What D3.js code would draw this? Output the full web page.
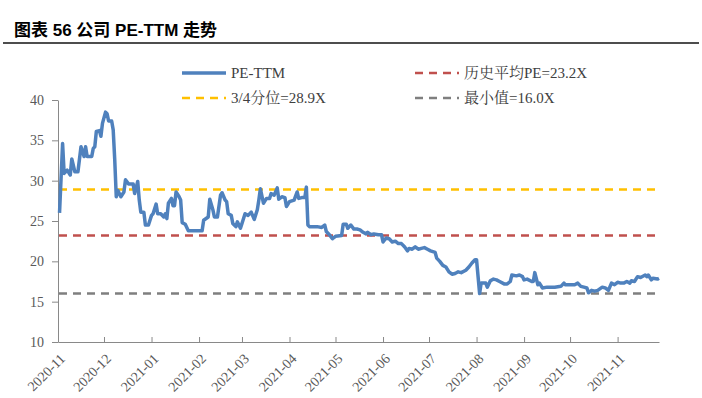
<!DOCTYPE html>
<html>
<head>
<meta charset="utf-8">
<script src="https://cdn.jsdelivr.net/npm/d3@7"></script>
<style>
body { margin: 0; background: #fff; }
</style>
</head>
<body>
<svg id="chart" width="702" height="398"></svg>
<script>
// PE-TTM readings (date, value)
var dates = [
    "2020-11-02","2020-11-04","2020-11-05","2020-11-07","2020-11-09","2020-11-10","2020-11-12","2020-11-14",
    "2020-11-16","2020-11-18","2020-11-19","2020-11-20","2020-11-23","2020-11-24","2020-11-25","2020-11-26",
    "2020-11-28","2020-11-29","2020-11-30","2020-12-02","2020-12-03","2020-12-04","2020-12-06","2020-12-07",
    "2020-12-08","2020-12-09","2020-12-10","2020-12-12","2020-12-14","2020-12-15","2020-12-17","2020-12-20",
    "2020-12-21","2020-12-23","2020-12-24","2020-12-25","2020-12-27","2020-12-28","2020-12-30","2021-01-01",
    "2021-01-02","2021-01-04","2021-01-05","2021-01-07","2021-01-09","2021-01-10","2021-01-11","2021-01-12",
    "2021-01-14","2021-01-15","2021-01-16","2021-01-17","2021-01-19","2021-01-20","2021-01-21","2021-01-23",
    "2021-01-25","2021-01-27","2021-02-03","2021-02-04","2021-02-07","2021-02-08","2021-02-10","2021-02-11",
    "2021-02-13","2021-02-15","2021-02-16","2021-02-18","2021-02-19","2021-02-20","2021-02-22","2021-02-23",
    "2021-02-25","2021-02-26","2021-02-28","2021-03-01","2021-03-03","2021-03-05","2021-03-07","2021-03-09",
    "2021-03-11","2021-03-12","2021-03-13","2021-03-15","2021-03-17","2021-03-19","2021-03-20","2021-03-22",
    "2021-03-24","2021-03-25","2021-03-27","2021-03-29","2021-03-30","2021-04-01","2021-04-04","2021-04-06",
    "2021-04-07","2021-04-09","2021-04-11","2021-04-12","2021-04-13","2021-04-14","2021-04-19","2021-04-22",
    "2021-04-24","2021-04-25","2021-04-27","2021-04-29","2021-05-01","2021-05-05","2021-05-06","2021-05-08",
    "2021-05-09","2021-05-11","2021-05-13","2021-05-15","2021-05-17","2021-05-19","2021-05-21","2021-05-22",
    "2021-05-24","2021-05-26","2021-05-29","2021-05-31","2021-06-01","2021-06-03","2021-06-05","2021-06-07",
    "2021-06-09","2021-06-11","2021-06-13","2021-06-15","2021-06-17","2021-06-18","2021-06-20","2021-06-22",
    "2021-06-24","2021-06-26","2021-06-28","2021-06-30","2021-07-02","2021-07-05","2021-07-06","2021-07-08",
    "2021-07-10","2021-07-12","2021-07-14","2021-07-16","2021-07-18","2021-07-20","2021-07-22","2021-07-25",
    "2021-07-27","2021-07-29","2021-07-31","2021-08-01","2021-08-03","2021-08-04","2021-08-07","2021-08-08",
    "2021-08-10","2021-08-12","2021-08-14","2021-08-16","2021-08-19","2021-08-21","2021-08-23","2021-08-24",
    "2021-08-27","2021-08-29","2021-08-31","2021-09-01","2021-09-03","2021-09-06","2021-09-07","2021-09-08",
    "2021-09-10","2021-09-11","2021-09-13","2021-09-16","2021-09-21","2021-09-25","2021-09-27","2021-09-28",
    "2021-10-01","2021-10-04","2021-10-06","2021-10-08","2021-10-10","2021-10-12","2021-10-13","2021-10-15",
    "2021-10-17","2021-10-19","2021-10-22","2021-10-24","2021-10-26","2021-10-28","2021-10-30","2021-11-01",
    "2021-11-03","2021-11-05","2021-11-07","2021-11-09","2021-11-10","2021-11-12","2021-11-14","2021-11-16",
    "2021-11-19","2021-11-20","2021-11-21","2021-11-23","2021-11-24","2021-11-27","2021-11-28"
];
var peValues = [
    26.0,34.6,30.9,31.3,30.7,32.7,31.1,31.1,
    34.2,33.0,34.2,33.0,33.0,34.0,34.2,36.1,
    36.2,35.5,37.1,38.5,38.3,37.4,37.4,36.3,
    32.6,28.0,28.8,28.0,28.6,30.1,29.6,29.6,
    28.4,29.9,27.6,26.1,26.1,24.5,24.5,25.7,
    25.9,27.1,25.9,25.9,25.5,25.9,25.3,27.2,
    27.8,26.9,26.9,28.6,28.0,27.6,24.8,24.6,
    23.8,23.8,23.8,25.1,25.5,27.7,26.4,25.5,
    25.5,28.2,28.5,27.6,27.4,25.9,25.7,24.7,
    24.3,24.9,24.1,24.7,25.9,25.7,26.1,25.2,
    26.4,27.6,29.0,27.2,27.8,27.8,28.4,28.2,
    29.1,27.7,28.0,27.9,26.8,27.4,27.6,28.6,
    27.8,27.9,27.9,29.2,24.5,24.3,24.3,24.2,
    24.5,23.7,23.3,22.8,23.1,23.2,24.6,24.6,
    24.1,24.5,24.0,24.0,23.9,23.6,23.4,23.6,
    23.3,23.4,23.3,23.3,22.4,22.9,22.8,22.4,
    22.5,22.2,22.2,21.8,21.3,21.6,21.5,21.8,
    21.5,21.6,21.7,21.5,21.3,21.1,20.4,20.0,
    19.5,19.3,18.7,18.4,18.5,18.7,18.6,18.9,
    19.3,19.8,20.2,20.2,16.0,17.3,17.3,16.8,
    17.6,17.8,17.7,17.5,17.2,17.2,17.5,18.3,
    18.2,18.3,18.1,17.7,17.8,17.5,17.5,18.6,
    17.1,17.3,16.7,16.8,16.8,16.9,17.3,17.1,
    17.1,17.1,17.3,16.9,16.8,16.7,16.1,16.4,
    16.3,16.4,16.8,16.7,16.4,17.3,17.1,17.4,
    17.3,17.3,17.5,17.3,17.6,17.5,18.1,18.0,
    18.3,18.1,18.3,17.7,17.9,17.8,17.9
];

// reference lines
var refNames = ["历史平均PE=23.2X", "3/4分位=28.9X", "最小值=16.0X"];
var refValues = [23.2, 28.9, 16.0];
var refColors = ["#C0504D", "#FFC000", "#7F7F7F"];

var yTicks = [10, 15, 20, 25, 30, 35, 40];
var monthTicks = ["2020-11","2020-12","2021-01","2021-02","2021-03","2021-04","2021-05",
                  "2021-06","2021-07","2021-08","2021-09","2021-10","2021-11"];

var parseDay = d3.timeParse("%Y-%m-%d");
var parseMonth = d3.timeParse("%Y-%m");
var fmtMonth = d3.timeFormat("%Y-%m");

var serif = "'Times New Roman','Liberation Serif','Noto Serif CJK SC','Noto Sans CJK SC',serif";

var svg = d3.select("#chart");

// title
svg.append("text")
    .attr("x", 14)
    .attr("y", 36)
    .style("font-family", "'Liberation Sans',Arial,'Noto Sans CJK SC',sans-serif")
    .style("font-size", "17px")
    .style("font-weight", "bold")
    .style("fill", "#000")
    .text("图表 56 公司 PE-TTM 走势");

svg.append("line")
    .attr("x1", 3).attr("x2", 699)
    .attr("y1", 43).attr("y2", 43)
    .style("stroke", "#4d4d4d")
    .style("stroke-width", 2);

var x = d3.scaleTime()
    .domain([parseDay("2020-11-01"), parseDay("2021-11-28")])
    .range([58, 659]);

var y = d3.scaleLinear()
    .domain([10, 40])
    .range([342, 100]);

// y axis
var yAxis = svg.append("g")
    .attr("transform", "translate(58,0)")
    .call(d3.axisLeft(y).tickValues(yTicks).tickSize(6).tickPadding(8).tickSizeOuter(0));
yAxis.select(".domain").style("stroke", "#898989");
yAxis.selectAll(".tick line").style("stroke", "#898989");
yAxis.selectAll("text")
    .style("font-family", serif)
    .style("font-size", "14px")
    .style("fill", "#595959");

// x axis
var xAxis = svg.append("g")
    .attr("transform", "translate(0,342)")
    .call(d3.axisBottom(x)
        .tickValues(monthTicks.map(function (m) { return parseMonth(m); }))
        .tickFormat(fmtMonth)
        .tickSizeInner(-5)
        .tickSizeOuter(0));
xAxis.select(".domain").style("stroke", "#898989");
xAxis.selectAll(".tick line").style("stroke", "#898989");
xAxis.selectAll("text")
    .attr("x", 0).attr("y", 0).attr("dy", "0.35em")
    .attr("transform", "translate(4,14) rotate(-45)")
    .style("text-anchor", "end")
    .style("font-family", serif)
    .style("font-size", "14px")
    .style("fill", "#595959");

// dashed reference lines
svg.selectAll(".ref")
    .data(refValues)
    .enter().append("line")
    .attr("class", "ref")
    .attr("x1", x.range()[0] + 1)
    .attr("x2", x.range()[1])
    .attr("y1", function (d) { return y(d); })
    .attr("y2", function (d) { return y(d); })
    .style("stroke", function (d, i) { return refColors[i]; })
    .style("stroke-width", 2.5)
    .style("stroke-dasharray", "8,6");

// PE line
var series = dates.map(function (d, i) { return { date: parseDay(d), value: peValues[i] }; });
var line = d3.line()
    .x(function (d) { return x(d.date); })
    .y(function (d) { return y(d.value); });

svg.append("path")
    .datum(series)
    .attr("d", line)
    .style("fill", "none")
    .style("stroke", "#4F81BD")
    .style("stroke-width", 3.5)
    .style("stroke-linejoin", "round");

// legend
var legendItems = [
    { name: "PE-TTM", color: "#4F81BD", dash: null, x: 182, y: 73 },
    { name: refNames[0], color: refColors[0], dash: "8,6", x: 415, y: 73 },
    { name: refNames[1], color: refColors[1], dash: "8,6", x: 182, y: 98 },
    { name: refNames[2], color: refColors[2], dash: "8,6", x: 415, y: 98 }
];
var legend = svg.selectAll(".legend")
    .data(legendItems)
    .enter().append("g")
    .attr("class", "legend")
    .attr("transform", function (d) { return "translate(" + d.x + "," + d.y + ")"; });
legend.append("line")
    .attr("x1", 0).attr("x2", 44)
    .style("stroke", function (d) { return d.color; })
    .style("stroke-width", function (d) { return d.dash ? 2.5 : 3.5; })
    .style("stroke-dasharray", function (d) { return d.dash; });
legend.append("text")
    .attr("x", 49)
    .attr("dy", "0.35em")
    .style("font-family", serif)
    .style("font-size", "15px")
    .style("fill", "#404040")
    .text(function (d) { return d.name; });
</script>
</body>
</html>
